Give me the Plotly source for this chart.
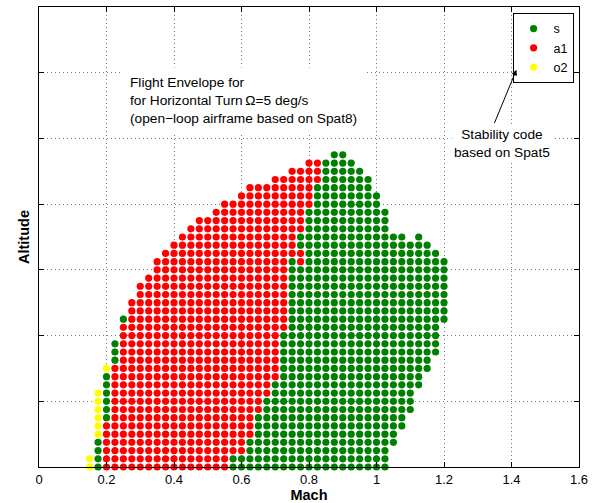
import plotly.graph_objects as go

# Test grid: Mach step and altitude step between neighbouring test points
MACH_STEP = 0.025
ALT_STEP = 250.0   # m

# Stability code per grid row (row index = altitude / ALT_STEP).
# Each row: first Mach column index, then run-length segments (code, count).
# Codes: "s" stable, "a1", "o2", "-" no point
row_start = [6, 6, 7, 7, 7, 7, 7, 7, 7, 7,
             8, 8, 8, 9, 9, 9, 10, 10, 10, 11,
             11, 12, 12, 13, 14, 14, 15, 16, 17, 18,
             19, 21, 22, 24, 25, 28, 30, 32, 35]

row_runs = [
    [("o2", 1), ("s", 1), ("a1", 15), ("s", 19)],            # 0
    [("o2", 1), ("s", 1), ("a1", 15), ("s", 19)],            # 1
    [("s", 1), ("a1", 17), ("s", 17)],                       # 2
    [("s", 1), ("a1", 17), ("s", 18)],                       # 3
    [("o2", 1), ("a1", 18), ("s", 17)],                      # 4
    [("o2", 1), ("a1", 18), ("s", 18)],                      # 5
    [("o2", 1), ("s", 1), ("a1", 17), ("s", 18)],            # 6
    [("o2", 1), ("s", 1), ("a1", 18), ("s", 18)],            # 7
    [("o2", 1), ("s", 1), ("a1", 18), ("s", 18)],            # 8
    [("o2", 1), ("s", 1), ("a1", 19), ("s", 17)],            # 9
    [("s", 1), ("a1", 19), ("s", 18)],                       # 10
    [("s", 1), ("a1", 20), ("s", 17)],                       # 11
    [("o2", 1), ("a1", 20), ("s", 18)],                      # 12
    [("s", 1), ("a1", 19), ("s", 18)],                       # 13
    [("s", 1), ("a1", 19), ("s", 19)],                       # 14
    [("s", 1), ("a1", 19), ("s", 19)],                       # 15
    [("a1", 19), ("s", 19)],                                 # 16
    [("a1", 20), ("s", 18)],                                 # 17
    [("s", 1), ("a1", 19), ("s", 19)],                       # 18
    [("a1", 19), ("s", 19)],                                 # 19
    [("a1", 19), ("s", 19)],                                 # 20
    [("a1", 18), ("s", 19)],                                 # 21
    [("a1", 18), ("s", 19)],                                 # 22
    [("a1", 17), ("s", 19)],                                 # 23
    [("a1", 16), ("s", 19)],                                 # 24
    [("a1", 16), ("s", 1), ("a1", 1), ("s", 17)],            # 25
    [("a1", 17), ("s", 16)],                                 # 26
    [("a1", 15), ("s", 16)],                                 # 27
    [("a1", 14), ("s", 13), ("-", 1), ("s", 1)],             # 28
    [("a1", 14), ("s", 10)],                                 # 29
    [("a1", 13), ("s", 10)],                                 # 30
    [("a1", 11), ("s", 10)],                                 # 31
    [("a1", 11), ("s", 8)],                                  # 32
    [("a1", 9), ("s", 8)],                                   # 33
    [("a1", 8), ("s", 7)],                                   # 34
    [("a1", 6), ("s", 6)],                                   # 35
    [("a1", 4), ("s", 5)],                                   # 36
    [("a1", 2), ("s", 4)],                                   # 37
    [("s", 2)],                                              # 38
]

codes = ["s", "a1", "o2"]
code_colors = {"s": "#008000", "a1": "#ff0000", "o2": "#ffff00"}

# Expand the run-length rows into (Mach, altitude) points per code
points = {c: ([], []) for c in codes}
for r, (start, runs) in enumerate(zip(row_start, row_runs)):
    col = start
    for code, n in runs:
        for _ in range(n):
            if code in points:
                points[code][0].append(round(col * MACH_STEP, 4))
                points[code][1].append(r * ALT_STEP)
            col += 1

FONT = "Liberation Sans, Arial, Helvetica, sans-serif"

fig = go.Figure()
for c in codes:
    fig.add_trace(go.Scatter(
        x=points[c][0], y=points[c][1], mode="markers", name=c,
        marker=dict(size=7.2, color=code_colors[c], line=dict(width=0)),
        cliponaxis=False,
    ))

axis_common = dict(
    showline=True, linecolor="black", linewidth=1, mirror="ticks",
    ticks="inside", ticklen=5, tickcolor="black",
    showgrid=True, gridcolor="#7a7a7a", griddash="1px,3px", gridwidth=1,
    zeroline=False, automargin=False,
)

fig.update_xaxes(
    range=[0, 1.6], tick0=0, dtick=0.2,
    title=dict(text="<b>Mach</b>", font=dict(size=14.5, family=FONT, color="black"), standoff=2),
    tickfont=dict(size=13, family=FONT, color="black"),
    **axis_common,
)
fig.update_yaxes(
    range=[0, 14000], tick0=0, dtick=2000, showticklabels=False,
    title=dict(text="<b>Altitude</b>", font=dict(size=14.5, family=FONT, color="black"), standoff=4),
    **axis_common,
)

fig.add_annotation(
    x=0.2465, y=12180, xref="x", yref="y", xanchor="left", yanchor="top",
    text="Flight Envelope for<br>for Horizontal Turn\u2009\u03a9=5 deg/s<br>(open\u2212loop airframe based on Spat8)",
    align="left", showarrow=False, bgcolor="white", borderpad=7,
    font=dict(size=13.7, family=FONT, color="black"),
)
fig.add_annotation(
    x=1.372, y=9840, xref="x", yref="y", xanchor="center", yanchor="middle",
    text="Stability code<br>based on Spat5",
    align="center", showarrow=False, bgcolor="white", borderpad=2,
    font=dict(size=13.7, family=FONT, color="black"),
)
fig.add_annotation(
    x=1.4146, y=12090, xref="x", yref="y",
    ax=1.3475, ay=10420, axref="x", ayref="y",
    text="", showarrow=True, arrowhead=2, arrowsize=1.1, arrowwidth=1, arrowcolor="black",
)

fig.update_layout(
    width=600, height=503,
    margin=dict(l=38.7, r=20.7, t=7.3, b=35.7),
    paper_bgcolor="white", plot_bgcolor="white",
    font=dict(family=FONT, color="black"),
    showlegend=True,
    legend=dict(
        x=0.990, y=0.987, xanchor="right", yanchor="top",
        bgcolor="white", bordercolor="black", borderwidth=1,
        font=dict(size=12.5, family=FONT, color="black"),
        itemwidth=30,
    ),
)

fig.write_html("out.html")
